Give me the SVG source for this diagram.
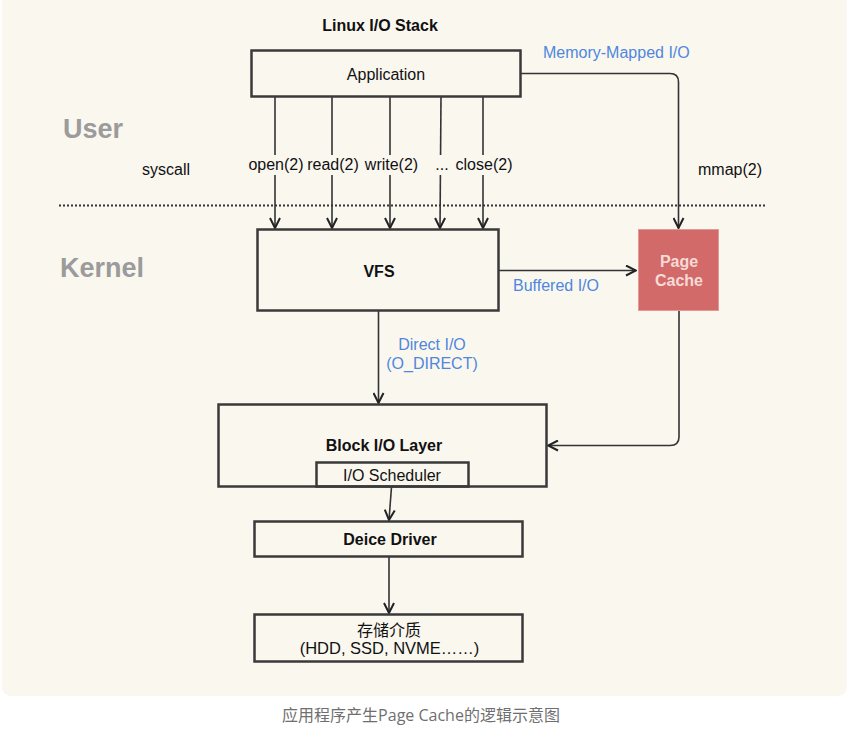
<svg xmlns="http://www.w3.org/2000/svg" width="859" height="736" viewBox="0 0 859 736">
<style>
text{font-family:"Liberation Sans",Arial,sans-serif;fill:#111}
.box{fill:none;stroke:#3a3a3a;stroke-width:2.5}
.c{text-anchor:middle}
.b{font-weight:bold}
.t{font-size:16px}
.blue{fill:#4f87dc}
.side{font-size:27px;font-weight:bold;fill:#9b9b9b}
.con{fill:none;stroke:#333;stroke-width:1.6}
.lbl{fill:#faf7ef}
</style>
<defs>
<marker id="ah" viewBox="0 0 12 12" refX="11" refY="6" markerWidth="12" markerHeight="12" markerUnits="userSpaceOnUse" orient="auto">
<path d="M1,1 L11,6 L1,11" fill="none" stroke="#222" stroke-width="2"/>
</marker>
</defs>
<rect x="0" y="0" width="859" height="736" fill="#ffffff"/>
<rect x="2" y="-10" width="845" height="706" rx="9" fill="#faf7ef"/>

<text class="side" x="63" y="138">User</text>
<text class="side" x="60" y="277">Kernel</text>
<line x1="59" y1="205.5" x2="767" y2="205.5" stroke="#333" stroke-width="2" stroke-dasharray="2,2"/>
<text class="t b c" x="380" y="31">Linux I/O Stack</text>
<text class="t" x="142" y="175">syscall</text>

<g id="connectors">
<line class="con" x1="275" y1="97" x2="275" y2="228" marker-end="url(#ah)"/>
<line class="con" x1="332" y1="97" x2="332" y2="228" marker-end="url(#ah)"/>
<line class="con" x1="390" y1="97" x2="390" y2="228" marker-end="url(#ah)"/>
<line class="con" x1="441" y1="97" x2="440" y2="228" marker-end="url(#ah)"/>
<line class="con" x1="483" y1="97" x2="483" y2="228" marker-end="url(#ah)"/>
<path class="con" d="M521,73.5 H670 Q678.5,73.5 678.5,82 V228" marker-end="url(#ah)"/>
<line class="con" x1="499" y1="270.5" x2="636" y2="270.5" marker-end="url(#ah)"/>
<line class="con" x1="378.5" y1="311" x2="378.5" y2="403" marker-end="url(#ah)"/>
<path class="con" d="M679,311 V437 Q679,445.5 670,445.5 H548" marker-end="url(#ah)"/>
<line class="con" x1="391.5" y1="487" x2="389" y2="520" marker-end="url(#ah)"/>
<line class="con" x1="389" y1="557" x2="389" y2="613" marker-end="url(#ah)"/>
<rect class="lbl" x="247" y="155" width="58" height="20"/>
<rect class="lbl" x="305" y="155" width="56" height="20"/>
<rect class="lbl" x="364" y="155" width="55" height="20"/>
<rect class="lbl" x="435" y="155" width="14" height="20"/>
<rect class="lbl" x="454" y="155" width="60" height="20"/>
<text class="t c" x="276" y="170">open(2)</text>
<text class="t c" x="333" y="170">read(2)</text>
<text class="t c" x="391.5" y="170">write(2)</text>
<text class="t c" x="442" y="170">...</text>
<text class="t c" x="484" y="170">close(2)</text>
<text class="t blue" x="543" y="58">Memory-Mapped I/O</text>
<text class="t" x="698" y="175">mmap(2)</text>
<text class="t blue" x="513" y="291">Buffered I/O</text>
<text class="t blue c" x="432" y="349.5">Direct I/O</text>
<text class="t blue c" x="432" y="368.5">(O_DIRECT)</text>
</g>

<g id="application">
<rect class="box" x="251.5" y="50.5" width="269" height="46"/>
<text class="t c" x="386" y="79.5">Application</text>
</g>

<g id="vfs">
<rect class="box" x="257.5" y="229.5" width="241" height="81"/>
<text class="t b c" x="379" y="276.5">VFS</text>
</g>

<g id="page-cache">
<rect x="638.5" y="229.5" width="80" height="81" fill="#d26a69" stroke="#e19a98" stroke-width="1"/>
<text class="t b c" x="679" y="267" style="fill:#f6dad6">Page</text>
<text class="t b c" x="679" y="286" style="fill:#f6dad6">Cache</text>
</g>

<g id="block-io">
<rect class="box" x="218.5" y="404.5" width="328" height="82"/>
<text class="t b c" x="384" y="451">Block I/O Layer</text>
</g>

<g id="io-scheduler">
<rect class="box" x="316.5" y="462.5" width="152" height="24"/>
<text class="t c" x="392" y="480.5">I/O Scheduler</text>
</g>

<g id="device-driver">
<rect class="box" x="254.5" y="521.5" width="268" height="35"/>
<text class="t b c" x="390" y="544.5">Deice Driver</text>
</g>

<g id="storage">
<rect class="box" x="254.5" y="614.5" width="268" height="47"/>
<text class="c" x="389" y="636" style="font-size:16px;font-family:'Noto Sans CJK SC','Liberation Sans',sans-serif">存储介质</text>
<text class="c" x="389.5" y="654" style="font-size:16.5px">(HDD, SSD, NVME……)</text>
</g>

<text class="c" x="421" y="721" style="font-size:16px;fill:#6f6f6f;font-family:'Open Sans','Noto Sans CJK SC',sans-serif">应用程序产生Page Cache的逻辑示意图</text>
</svg>
